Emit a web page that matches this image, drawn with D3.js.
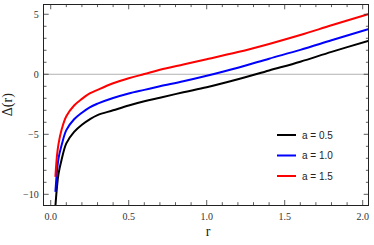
<!DOCTYPE html>
<html>
<head>
<meta charset="utf-8">
<script src="https://cdn.jsdelivr.net/npm/d3@7"></script>
<style>
  body { margin: 0; background: #fff; }
  svg { display: block; }
  .tick-label { font-family: "Liberation Serif", "Times New Roman", serif; font-size: 10px; fill: #333; }
  .title { font-family: "Liberation Serif", "Times New Roman", serif; font-size: 14px; fill: #222; }
  .legend text { font-family: "Liberation Sans", Arial, sans-serif; font-size: 10px; fill: #222; }
</style>
</head>
<body>
<svg class="chart"></svg>
<script>
// values
const rValues = [0.03, 0.04, 0.05, 0.07, 0.1, 0.15, 0.2, 0.25, 0.3, 0.4, 0.5, 0.6, 0.7, 0.85, 1.0, 1.2, 1.4, 1.6, 1.8, 2.04];
const deltaA05 = [-11.0, -9.4, -8.3, -7.1, -5.75, -4.8, -4.2, -3.75, -3.4, -3.0, -2.6, -2.25, -1.95, -1.5, -1.08, -0.42, 0.32, 1.05, 1.87, 2.8];
const deltaA10 = [-9.8, -8.1, -7.0, -5.9, -4.65, -3.75, -3.2, -2.75, -2.45, -1.98, -1.6, -1.3, -1.0, -0.58, -0.12, 0.55, 1.3, 2.03, 2.83, 3.78];
const deltaA15 = [-8.55, -6.8, -5.8, -4.6, -3.5, -2.6, -2.05, -1.6, -1.3, -0.75, -0.33, 0.02, 0.38, 0.82, 1.25, 1.85, 2.53, 3.27, 4.08, 5.03];
const seriesNames = ["a = 0.5", "a = 1.0", "a = 1.5"];
const seriesColors = ["#000000", "#0000ff", "#ff0000"];

const xMajor = [0, 0.5, 1.0, 1.5, 2.0];
const xMinor = d3.range(0, 21).map(i => i / 10);
const yMajor = [-10, -5, 0, 5];
const yMinor = d3.range(-10, 6);

const W = 374, H = 245;
const frame = {left: 43.7, right: 368.7, top: 4.3, bottom: 205};

let x = d3.scaleLinear().domain([-0.045, 2.0385]).range([frame.left, frame.right]);
let y = d3.scaleLinear().domain([-10.89, 5.83]).range([frame.bottom, frame.top]);

let svg = d3.select(".chart").attr("width", W).attr("height", H);

svg.append("clipPath").attr("id", "plot-clip")
   .append("rect")
   .attr("x", frame.left).attr("y", frame.top)
   .attr("width", frame.right - frame.left).attr("height", frame.bottom - frame.top);

// zero axis line
svg.append("line")
   .attr("x1", frame.left).attr("x2", frame.right)
   .attr("y1", y(0)).attr("y2", y(0))
   .style("stroke", "#b3b3b3").style("stroke-width", 1);

// curves
const series = [deltaA05, deltaA10, deltaA15];
let line = d3.line()
             .x((d, i) => x(rValues[i]))
             .y(d => y(d))
             .curve(d3.curveCatmullRom.alpha(0.5));

svg.append("g").attr("clip-path", "url(#plot-clip)")
   .selectAll("path")
   .data(series)
   .enter().append("path")
   .attr("d", d => line(d))
   .style("fill", "none")
   .style("stroke", (d, i) => seriesColors[i])
   .style("stroke-width", 2);

// frame ticks, inward, on all four sides
let ticks = svg.append("g").style("stroke", "#333").style("stroke-width", 0.8);
xMinor.forEach(v => {
  let len = xMajor.some(m => Math.abs(m - v) < 1e-9) ? 5 : 2.8;
  ticks.append("line").attr("x1", x(v)).attr("x2", x(v)).attr("y1", frame.bottom).attr("y2", frame.bottom - len);
  ticks.append("line").attr("x1", x(v)).attr("x2", x(v)).attr("y1", frame.top).attr("y2", frame.top + len);
});
yMinor.forEach(v => {
  let len = yMajor.includes(v) ? 5 : 2.8;
  ticks.append("line").attr("y1", y(v)).attr("y2", y(v)).attr("x1", frame.left).attr("x2", frame.left + len);
  ticks.append("line").attr("y1", y(v)).attr("y2", y(v)).attr("x1", frame.right).attr("x2", frame.right - len);
});

// frame
svg.append("rect")
   .attr("x", frame.left).attr("y", frame.top)
   .attr("width", frame.right - frame.left).attr("height", frame.bottom - frame.top)
   .style("fill", "none").style("stroke", "#222").style("stroke-width", 1)
   .style("shape-rendering", "crispEdges");

// tick labels
svg.selectAll(".xlab").data(xMajor).enter().append("text")
   .attr("class", "tick-label")
   .attr("x", d => x(d)).attr("y", frame.bottom + 15)
   .style("text-anchor", "middle")
   .text(d => d.toFixed(1));

svg.selectAll(".ylab").data(yMajor).enter().append("text")
   .attr("class", "tick-label")
   .attr("x", frame.left - 5).attr("y", d => y(d) + 3.5)
   .style("text-anchor", "end")
   .text(d => d < 0 ? "\u2212" + Math.abs(d) : d);

// axis titles
svg.append("text").attr("class", "title")
   .attr("x", 208).attr("y", 236)
   .style("text-anchor", "middle")
   .text("r");

svg.append("text").attr("class", "title")
   .attr("transform", "translate(12," + (frame.top + frame.bottom) / 2 + ") rotate(-90)")
   .style("text-anchor", "middle")
   .text("\u0394(r)");

// legend
let legend = svg.append("g").attr("class", "legend")
                .selectAll("g").data(seriesNames).enter().append("g")
                .attr("transform", (d, i) => "translate(277," + (135 + i * 20.5) + ")");
legend.append("line")
      .attr("x1", 0).attr("x2", 19).attr("y1", 0).attr("y2", 0)
      .style("stroke", (d, i) => seriesColors[i]).style("stroke-width", 2);
legend.append("text")
      .attr("x", 25).attr("y", 3.5)
      .text(d => d);
</script>
</body>
</html>
